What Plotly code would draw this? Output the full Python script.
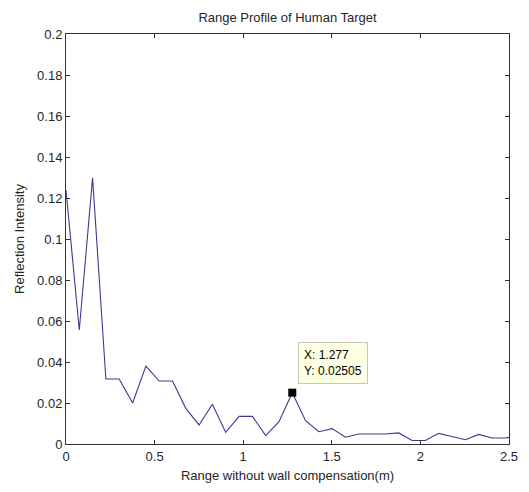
import plotly.graph_objects as go

# Range bins (m) and reflection intensity
range_m = [0.000, 0.075, 0.150, 0.225, 0.300, 0.376, 0.451, 0.526, 0.601, 0.676,
           0.751, 0.826, 0.901, 0.977, 1.052, 1.127, 1.202, 1.277, 1.352, 1.427,
           1.502, 1.577, 1.653, 1.728, 1.803, 1.878, 1.953, 2.028, 2.103, 2.178,
           2.254, 2.329, 2.404, 2.479, 2.554]
intensity = [0.1239, 0.0556, 0.1298, 0.0317, 0.0317, 0.0200, 0.0380, 0.0307, 0.0307, 0.0174,
             0.0093, 0.0194, 0.0057, 0.0135, 0.0135, 0.0041, 0.0109, 0.02505, 0.0114, 0.0060,
             0.0075, 0.0033, 0.0049, 0.0049, 0.0049, 0.0054, 0.0017, 0.0017, 0.0052, 0.0037,
             0.0021, 0.0047, 0.0029, 0.0029, 0.0040]

tip_x = [1.277]
tip_y = [0.02505]

x_ticks = [0, 0.5, 1, 1.5, 2, 2.5]
x_tick_text = ["0", "0.5", "1", "1.5", "2", "2.5"]
y_ticks = [0, 0.02, 0.04, 0.06, 0.08, 0.1, 0.12, 0.14, 0.16, 0.18, 0.2]
y_tick_text = ["0", "0.02", "0.04", "0.06", "0.08", "0.1", "0.12", "0.14", "0.16", "0.18", "0.2"]

FONT = "Liberation Sans, Arial, sans-serif"
TXT = "#262626"

fig = go.Figure()
fig.add_trace(go.Scatter(x=range_m, y=intensity, mode="lines",
                         line=dict(color="#3a3a96", width=1.1),
                         hoverinfo="skip", showlegend=False))
fig.add_trace(go.Scatter(x=tip_x, y=tip_y, mode="markers",
                         marker=dict(color="black", size=8, symbol="square",
                                     line=dict(width=0)),
                         showlegend=False))

fig.add_annotation(x=tip_x[0], y=tip_y[0], xref="x", yref="y",
                   text="X: %.3f<br>Y: %.5f" % (tip_x[0], tip_y[0]),
                   showarrow=False, xanchor="left", yanchor="bottom",
                   xshift=6, yshift=9, align="left",
                   font=dict(family=FONT, size=12, color="black"),
                   bgcolor="#ffffe3", bordercolor="#c8c8b8", borderwidth=1,
                   borderpad=5)

axis_common = dict(showline=True, linecolor="#333333", linewidth=1, mirror="ticks",
                   ticks="inside", ticklen=4, tickcolor="#333333", tickwidth=1,
                   showgrid=False, zeroline=False, automargin=False,
                   tickfont=dict(family=FONT, size=13, color=TXT))

fig.update_layout(
    width=529, height=492,
    margin=dict(l=66, r=20, t=34, b=48),
    paper_bgcolor="white", plot_bgcolor="white",
    title=dict(text="Range Profile of Human Target", x=0.5435, xanchor="center",
               y=1 - 17 / 492, yanchor="middle",
               font=dict(family=FONT, size=13, color=TXT)),
    xaxis=dict(range=[0, 2.5], tickvals=x_ticks, ticktext=x_tick_text,
               title=dict(text="Range without wall compensation(m)", standoff=8,
                          font=dict(family=FONT, size=13, color=TXT)),
               **axis_common),
    yaxis=dict(range=[0, 0.2], tickvals=y_ticks, ticktext=y_tick_text,
               title=dict(text="Reflection Intensity", standoff=9,
                          font=dict(family=FONT, size=13, color=TXT)),
               **axis_common),
)

fig.write_html("out.html")
